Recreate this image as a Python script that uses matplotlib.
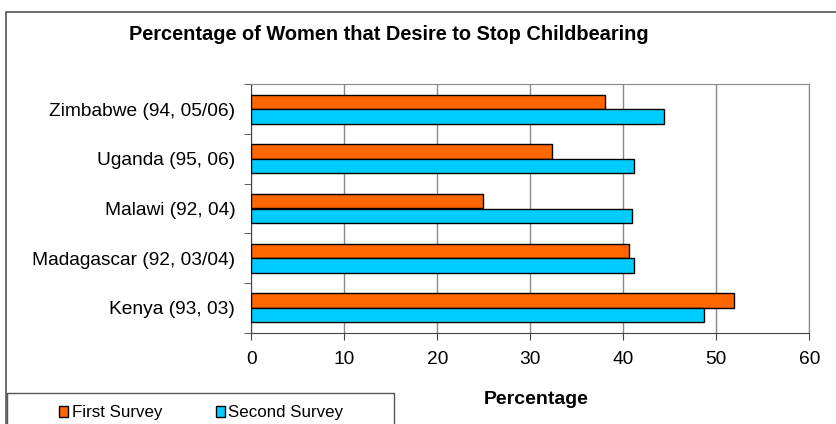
import numpy as np
import matplotlib
matplotlib.use("Agg")
from matplotlib import pyplot as plt
from matplotlib.lines import Line2D

countries = ["Kenya (93, 03)", "Madagascar (92, 03/04)", "Malawi (92, 04)",
             "Uganda (95, 06)", "Zimbabwe (94, 05/06)"]
first_survey = [51.9, 40.6, 24.9, 32.3, 38.0]
second_survey = [48.7, 41.2, 40.9, 41.1, 44.4]
xticks = [0, 10, 20, 30, 40, 50, 60]

plt.rcParams['font.family'] = ['Liberation Sans', 'DejaVu Sans']

W, H = 837, 424
fig = plt.figure(figsize=(W / 100, H / 100), dpi=100)

def px(x0, y0, x1, y1):
    # pixel box (top-left origin) -> figure fraction rect
    return [x0 / W, 1 - y1 / H, (x1 - x0) / W, (y1 - y0) / H]

def fline(xs, ys, lw):
    # polyline given in pixels, top-left origin
    fig.lines.append(Line2D([v / W for v in xs], [1 - v / H for v in ys],
                            transform=fig.transFigure, color="#555555", linewidth=lw))

# outer chart frame (runs off the right and bottom edges)
fline([W + 5, 6, 6], [12, 12, H + 5], 1.2)
# legend frame
fline([7, 7, 394, 394], [H + 5, 393, 393, H + 5], 1.0)

ax = fig.add_axes(px(251.3, 84.3, 809.3, 332.7))
y = np.arange(len(countries))
h = 0.29
b1 = ax.barh(y + h / 2, first_survey, height=h, color="#ff6600",
             edgecolor="black", linewidth=1.0, label="First Survey", zorder=3)
b2 = ax.barh(y - h / 2, second_survey, height=h, color="#00ccff",
             edgecolor="black", linewidth=1.0, label="Second Survey", zorder=3)

ax.set_xlim(0, 60)
ax.set_ylim(-0.5, len(countries) - 0.5)
ax.set_xticks(xticks)
ax.set_yticks(y)
ax.set_yticklabels(countries)
ax.set_yticks(np.arange(-0.5, len(countries), 1), minor=True)
ax.tick_params(axis="y", which="major", length=0, pad=11.5, labelsize=13.8)
ax.tick_params(axis="y", which="minor", length=5, color="#444444")
ax.tick_params(axis="x", length=5, pad=8, labelsize=13.8, color="#444444")
ax.grid(axis="x", color="#888888", linewidth=1.0, zorder=0)
for s in ["top", "right"]:
    ax.spines[s].set_color("#888888")
for s in ["left", "bottom"]:
    ax.spines[s].set_color("#444444")

fig.text(389 / W, 1 - 34 / H, "Percentage of Women that Desire to Stop Childbearing",
         ha="center", va="center", fontsize=14.4, fontweight="bold")
fig.text(536 / W, 1 - 400 / H, "Percentage", ha="center", va="center",
         fontsize=14, fontweight="bold")

fig.legend(handles=[b1, b2], loc="center left", bbox_to_anchor=(59 / W, 1 - 413 / H),
           ncol=2, frameon=False, fontsize=12.2, handlelength=0.55, handleheight=0.55,
           handletextpad=0.2, columnspacing=3.15, borderpad=0, borderaxespad=0)

fig.savefig("out.png", dpi=100)
